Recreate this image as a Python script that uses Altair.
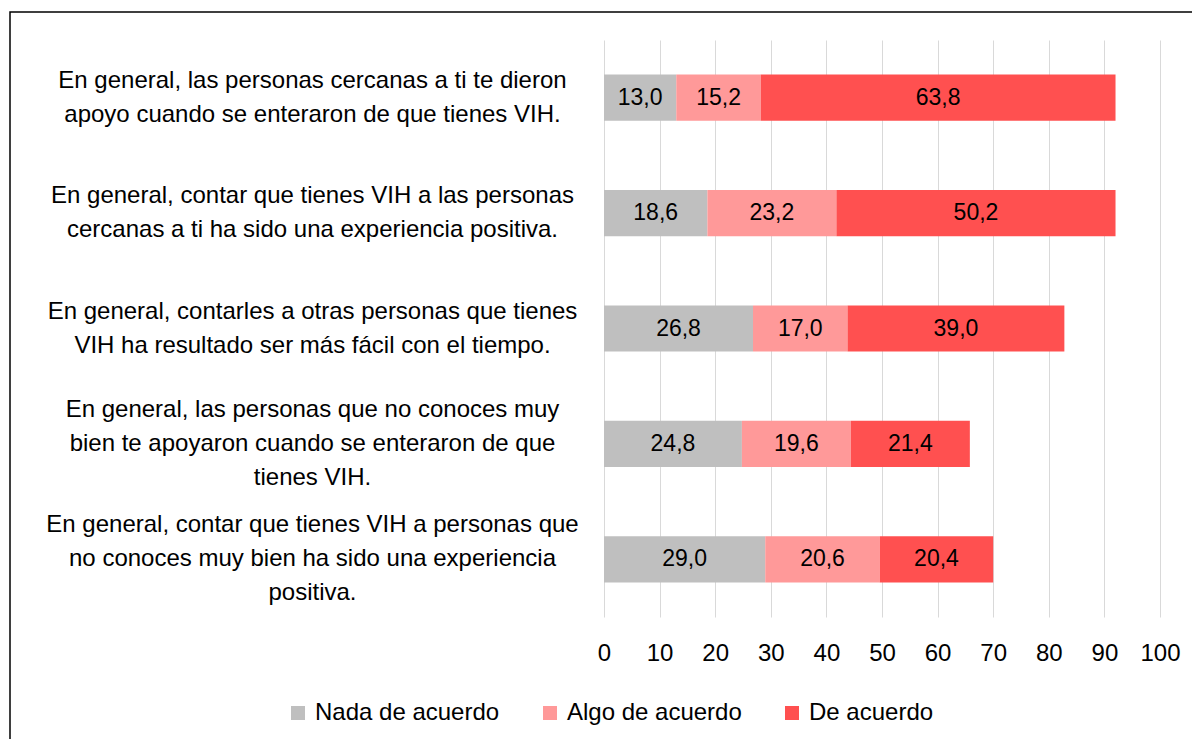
import altair as alt
import pandas as pd

questions = [
    "En general, las personas cercanas a ti te dieron|apoyo cuando se enteraron de que tienes VIH.",
    "En general, contar que tienes VIH a las personas|cercanas a ti ha sido una experiencia positiva.",
    "En general, contarles a otras personas que tienes|VIH ha resultado ser más fácil con el tiempo.",
    "En general, las personas que no conoces muy|bien te apoyaron cuando se enteraron de que|tienes VIH.",
    "En general, contar que tienes VIH a personas que|no conoces muy bien ha sido una experiencia|positiva.",
]
series = ["Nada de acuerdo", "Algo de acuerdo", "De acuerdo"]
nada = [13.0, 18.6, 26.8, 24.8, 29.0]
algo = [15.2, 23.2, 17.0, 19.6, 20.6]
de_acuerdo = [63.8, 50.2, 39.0, 21.4, 20.4]
colors = ["#BFBFBF", "#FF9999", "#FF5050"]
ticks = [0, 10, 20, 30, 40, 50, 60, 70, 80, 90, 100]

rows = []
for qi, q in enumerate(questions):
    for si, (s, vals) in enumerate(zip(series, [nada, algo, de_acuerdo])):
        v = vals[qi]
        rows.append({"question": q, "serie": s, "idx": si, "value": v,
                     "label": f"{v:.1f}".replace(".", ",")})
df = pd.DataFrame(rows)

FONT = "Liberation Sans"
LINE_H = 34

base = alt.Chart(df).transform_stack(
    stack="value", groupby=["question"], as_=["x0", "x1"], sort=[alt.SortField("idx")]
).transform_calculate(mid="(datum.x0 + datum.x1) / 2")

label_offset = {
    "condition": [
        {"test": "length(split(datum.value, '|')) >= 3", "value": -LINE_H},
    ],
    "value": -LINE_H / 2,
}

y_enc = alt.Y("question:N", sort=questions, title=None,
              scale=alt.Scale(paddingInner=0.6, paddingOuter=0.3),
              axis=alt.Axis(labelExpr="split(datum.label, '|')", labelAlign="center",
                            labelBaseline="middle", labelPadding=292, ticks=False, tickSize=0,
                            domain=False, grid=False, labelFontSize=24, labelLineHeight=LINE_H,
                            labelOffset=label_offset,
                            labelColor="black", labelFont=FONT, labelLimit=0))

bars = base.mark_bar().encode(
    x=alt.X("x0:Q", title=None, scale=alt.Scale(domain=[0, 100], nice=False),
            axis=alt.Axis(values=ticks, grid=True, gridColor="#D9D9D9", gridWidth=1,
                          domain=False, ticks=False, tickSize=0, labelPadding=24,
                          labelFlush=False, labelFontSize=24, labelColor="black",
                          labelFont=FONT)),
    x2="x1:Q",
    y=y_enc,
    color=alt.Color("serie:N", scale=alt.Scale(domain=series, range=colors),
                    legend=alt.Legend(title=None, orient="none", direction="horizontal",
                                      legendX=-318, legendY=661, symbolType="square",
                                      symbolSize=196, symbolStrokeWidth=0, labelFontSize=24,
                                      labelFont=FONT, labelColor="black", labelOffset=5,
                                      columnPadding=38, labelLimit=0)),
)

text = base.mark_text(fontSize=23, color="black", font=FONT, baseline="middle").encode(
    x="mid:Q", y=alt.Y("question:N", sort=questions), text="label:N"
)

frame = alt.Chart(pd.DataFrame({"a": [0]})).mark_rect(
    fill=None, stroke="black", strokeWidth=1.5
).encode(x=alt.value(-594), x2=alt.value(620), y=alt.value(-28), y2=alt.value(740))

chart = alt.layer(frame, bars, text).properties(
    width=556, height=577,
    autosize=alt.AutoSizeParams(type="none"),
    padding={"left": 596, "top": 32, "right": 32, "bottom": 122},
).configure_view(stroke=None)

chart.save("out.html", embed_options={"renderer": "svg", "actions": False})
